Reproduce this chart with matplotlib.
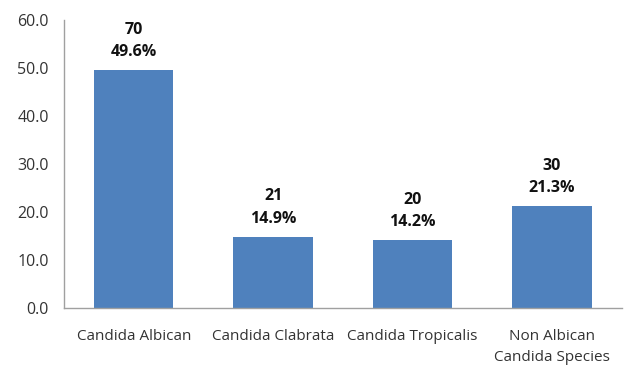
import matplotlib
matplotlib.use("Agg")
import matplotlib.pyplot as plt

categories = ["Candida Albican", "Candida Clabrata", "Candida Tropicalis", "Non Albican\nCandida Species"]
percentages = [49.6, 14.9, 14.2, 21.3]
counts = [70, 21, 20, 30]
yticks = [0, 10, 20, 30, 40, 50, 60]

plt.rcParams['font.family'] = ['Open Sans', 'DejaVu Sans']
fig = plt.figure(figsize=(6.28, 3.66), dpi=100)
ax = fig.add_axes([0.102, 0.158, 0.888, 0.787])
x = range(len(categories))
ax.bar(x, percentages, width=0.57, color="#4F81BD")
ax.set_xlim(-0.5, len(categories) - 0.5)
ax.set_ylim(0, 60)
ax.set_yticks(yticks)
ax.set_yticklabels([f"{v:.1f}" for v in yticks], fontsize=11.5, color="#333333")
ax.set_xticks(list(x))
ax.set_xticklabels(categories, fontsize=11, color="#333333", linespacing=1.5)
ax.tick_params(length=0)
ax.tick_params(axis='y', pad=11)
ax.tick_params(axis='x', pad=15)
for s in ["top", "right"]:
    ax.spines[s].set_visible(False)
for s in ["left", "bottom"]:
    ax.spines[s].set_color("#A0A0A0")
    ax.spines[s].set_linewidth(1.0)
for xi, p, c in zip(x, percentages, counts):
    ax.annotate(f"{c}\n{p:.1f}%", (xi, p), xytext=(0, 7), textcoords="offset points",
                ha="center", va="bottom", fontsize=11.5, fontweight="bold",
                color="#111111", linespacing=1.55)
fig.savefig("out.png", dpi=100)
